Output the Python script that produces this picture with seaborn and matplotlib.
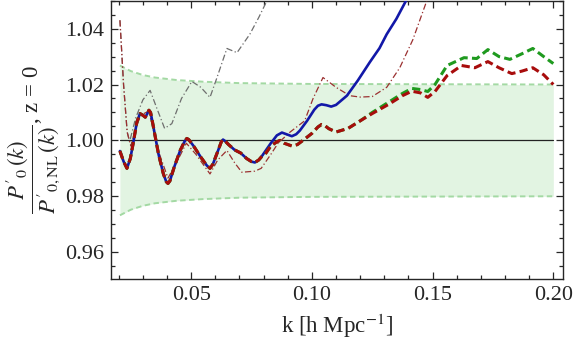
import numpy as np
import matplotlib
matplotlib.use("Agg")
import matplotlib.pyplot as plt
from matplotlib.ticker import MultipleLocator
import seaborn as sns
import pandas as pd

# --- DATA ---
# shared part of the three thick curves (k < 0.08)
k_common = [0.0205, 0.022, 0.0234, 0.0248, 0.026, 0.0275, 0.0288, 0.030, 0.031,
            0.0318, 0.0325, 0.0332, 0.034, 0.0365, 0.0385, 0.0397, 0.0404, 0.0412,
            0.043, 0.0455, 0.0472, 0.0482, 0.049, 0.051, 0.054, 0.0565, 0.0578,
            0.059, 0.0612, 0.0625, 0.0632, 0.064, 0.0655, 0.068, 0.0705, 0.073,
            0.075, 0.0764, 0.078, 0.079]
r_common = [0.9962, 0.9925, 0.9900, 0.9935, 0.9990, 1.0065, 1.0096, 1.0090, 1.0083,
            1.0095, 1.0108, 1.0100, 1.0065, 0.9950, 0.9880, 0.9852, 0.9846, 0.9855,
            0.9905, 0.9965, 0.9995, 1.0007, 1.0003, 0.9980, 0.9940, 0.9910, 0.9900,
            0.9915, 0.9965, 0.9995, 1.0003, 0.9998, 0.9985, 0.9966, 0.9955, 0.9935,
            0.9924, 0.9921, 0.9930, 0.9940]

k_blue_tail = [0.081, 0.083, 0.0855, 0.0876, 0.0895, 0.0917, 0.0935, 0.095, 0.098,
               0.101, 0.1025, 0.104, 0.106, 0.108, 0.110, 0.1115, 0.1145, 0.119,
               0.124, 0.128, 0.131, 0.135, 0.139, 0.141]
r_blue_tail = [0.9965, 0.9990, 1.0018, 1.0028, 1.0022, 1.0015, 1.0022, 1.0035, 1.007,
               1.011, 1.0124, 1.0129, 1.0126, 1.0121, 1.0127, 1.0138, 1.016, 1.0214,
               1.028, 1.033, 1.038, 1.0435, 1.050, 1.053]

k_red_tail = [0.081, 0.083, 0.0855, 0.0868, 0.0885, 0.0917, 0.094, 0.0963, 0.100,
              0.1025, 0.104, 0.1055, 0.107, 0.110, 0.115, 0.120, 0.125, 0.132,
              0.1375, 0.1414, 0.145, 0.148, 0.151, 0.156, 0.162, 0.1675, 0.1729,
              0.1775, 0.1828, 0.187, 0.1915, 0.196, 0.200]
r_red_tail = [0.9955, 0.998, 0.9995, 1.000, 0.999, 0.998, 0.9985, 1.000, 1.0025,
              1.0048, 1.0057, 1.0052, 1.0042, 1.003, 1.0043, 1.007, 1.0096, 1.013,
              1.016, 1.0176, 1.017, 1.0154, 1.0175, 1.0232, 1.0268, 1.026, 1.0282,
              1.026, 1.0239, 1.0248, 1.026, 1.0235, 1.020]

k_green_tail = [0.081, 0.083, 0.0855, 0.0868, 0.0885, 0.0917, 0.094, 0.0963, 0.100,
                0.1025, 0.104, 0.1055, 0.107, 0.110, 0.115, 0.120, 0.125, 0.132,
                0.1375, 0.1414, 0.145, 0.148, 0.151, 0.156, 0.163, 0.1683, 0.1729,
                0.1775, 0.182, 0.187, 0.1915, 0.196, 0.200]
r_green_tail = [0.9955, 0.998, 0.9995, 1.000, 0.999, 0.998, 0.9985, 1.000, 1.0025,
                1.0048, 1.0057, 1.0052, 1.0042, 1.003, 1.0043, 1.007, 1.010, 1.0138,
                1.0168, 1.0186, 1.0182, 1.0175, 1.020, 1.0268, 1.0296, 1.0293, 1.0325,
                1.030, 1.029, 1.031, 1.0329, 1.030, 1.0275]

k_gray = [0.0205, 0.022, 0.0235, 0.0245, 0.027, 0.030, 0.033, 0.036, 0.039, 0.042,
          0.046, 0.0503, 0.054, 0.0578, 0.0605, 0.0648, 0.069, 0.0743, 0.078,
          0.0814, 0.083]
r_gray = [1.043, 1.020, 1.003, 0.9995, 1.008, 1.0145, 1.0179, 1.011, 1.0043, 1.006,
          1.015, 1.0211, 1.019, 1.0154, 1.022, 1.0329, 1.0314, 1.038, 1.044,
          1.050, 1.053]

k_thin_red = [0.0205, 0.022, 0.0235, 0.025, 0.027, 0.029, 0.0325, 0.0365, 0.0404,
              0.0445, 0.048, 0.052, 0.0578, 0.061, 0.0648, 0.068, 0.071, 0.0764,
              0.079, 0.083, 0.086, 0.091, 0.097, 0.1005, 0.1046, 0.110, 0.1157,
              0.120, 0.125, 0.131, 0.1364, 0.1418, 0.1476, 0.149]
r_thin_red = [1.043, 1.020, 1.003, 0.998, 1.004, 1.009, 1.0105, 0.996, 0.9865,
              0.993, 0.999, 0.995, 0.988, 0.993, 0.9964, 0.992, 0.9886, 0.989,
              0.990, 0.995, 0.999, 1.003, 1.007, 1.015, 1.0225, 1.019, 1.016,
              1.0155, 1.0157, 1.019, 1.026, 1.036, 1.050, 1.054]

k_band = [0.0205, 0.025, 0.030, 0.035, 0.044, 0.055, 0.070, 0.100, 0.150, 0.200]
band_upper = [1.0268, 1.0248, 1.0234, 1.0225, 1.0216, 1.0210, 1.0205, 1.0202, 1.0201, 1.0200]
band_lower = [0.9732, 0.9752, 0.9766, 0.9775, 0.9784, 0.9790, 0.9795, 0.9798, 0.9799, 0.9800]

k_unity = [0.0205, 0.200]
r_unity = [1.0, 1.0]

# --- PLOTTING ---
sns.set_style("ticks")
plt.rcParams['font.family'] = ['Liberation Serif', 'DejaVu Serif']
plt.rcParams['mathtext.fontset'] = 'stix'

fig = plt.figure(figsize=(5.76, 3.42), dpi=100)
ax = fig.add_axes([0.1927, 0.1842, 0.7847, 0.8138])

band_col = "#a3d9a3"
ax.fill_between(k_band, band_lower, band_upper, color="#e2f4e2", lw=0, zorder=1)
sns.lineplot(x=k_band, y=band_upper, ax=ax, color=band_col, lw=1.4,
             linestyle=(0, (2.8, 1.8)), estimator=None, sort=False, zorder=2)
sns.lineplot(x=k_band, y=band_lower, ax=ax, color=band_col, lw=1.4,
             linestyle=(0, (2.8, 1.8)), estimator=None, sort=False, zorder=2)
sns.lineplot(x=k_unity, y=r_unity, ax=ax, color="#222222", lw=0.9,
             estimator=None, sort=False, zorder=3)

sns.lineplot(x=k_gray, y=r_gray, ax=ax, color="#6e6e6e", lw=0.9,
             linestyle=(0, (5, 2, 1, 2)), estimator=None, sort=False, zorder=4)
sns.lineplot(x=k_thin_red, y=r_thin_red, ax=ax, color="#9b3030", lw=0.9,
             linestyle=(0, (5, 2, 1, 2)), estimator=None, sort=False, zorder=4)

df_blue = pd.DataFrame({"k": k_common + k_blue_tail, "r": r_common + r_blue_tail})
df_green = pd.DataFrame({"k": k_common + k_green_tail, "r": r_common + r_green_tail})
df_red = pd.DataFrame({"k": k_common + k_red_tail, "r": r_common + r_red_tail})

sns.lineplot(data=df_blue, x="k", y="r", ax=ax, color="#1218a8", lw=1.9,
             estimator=None, sort=False, zorder=5)
sns.lineplot(data=df_green, x="k", y="r", ax=ax, color="#1f9a1f", lw=2.2,
             linestyle=(0, (2.7, 1.4)), estimator=None, sort=False, zorder=6)
sns.lineplot(data=df_red, x="k", y="r", ax=ax, color="#a80c0c", lw=2.2,
             linestyle=(0, (2.7, 1.4)), estimator=None, sort=False, zorder=7)

ax.set_xlim(0.0168, 0.204)
ax.set_ylim(0.9504, 1.05)
ax.xaxis.set_minor_locator(MultipleLocator(0.01))
ax.yaxis.set_minor_locator(MultipleLocator(0.005))
ax.set_xticks([0.05, 0.10, 0.15, 0.20])
ax.set_xticklabels(["0.05", "0.10", "0.15", "0.20"])
ax.set_yticks([0.96, 0.98, 1.00, 1.02, 1.04])
ax.set_yticklabels(["0.96", "0.98", "1.00", "1.02", "1.04"])
ax.tick_params(which="both", direction="in", top=True, right=True, width=0.9,
               labelsize=16, pad=5)
ax.tick_params(which="major", length=5)
ax.tick_params(which="minor", length=3)
for s in ax.spines.values():
    s.set_linewidth(1.0)

ax.set_xlabel(r"k [h Mpc$^{-1}$]", fontsize=16.5, labelpad=5)
ax.set_ylabel(r"$\dfrac{P'_{0}\,(k)}{P'_{0,\mathrm{NL}}\,(k)}$, z = 0", fontsize=16.5,
              labelpad=2)

fig.savefig("out.png", dpi=100)
